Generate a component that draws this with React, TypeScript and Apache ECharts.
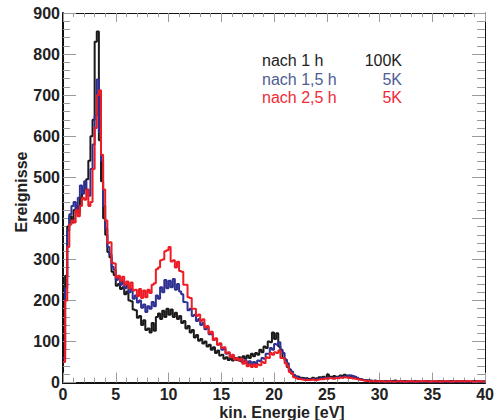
import React, { useEffect, useRef } from "react";
import * as echarts from "echarts";

// Histogram binning (eV)
const BIN_WIDTH = 0.2;
const X_TICKS = [0, 5, 10, 15, 20, 25, 30, 35, 40];

const LEGEND_LABELS = ["nach 1 h", "nach 1,5 h", "nach 2,5 h"];
const LEGEND_COUNTS = ["100K", "5K", "5K"];

// nach 1 h (black)
const BLACK = [
  80, 260, 380, 405, 390, 420, 430, 415, 450, 465,
  470, 495, 540, 600, 640, 830, 855, 590, 490, 400,
  360, 318, 305, 270, 262, 236, 240, 228, 232, 215,
  222, 200, 198, 178, 176, 158, 162, 140, 152, 128,
  132, 122, 145, 126, 160, 168, 155, 175, 160, 180,
  165, 178, 160, 170, 155, 162, 145, 150, 132, 138,
  122, 128, 110, 116, 102, 106, 95, 100, 88, 92,
  80, 86, 72, 78, 66, 68, 58, 62, 55, 60,
  54, 60, 55, 62, 52, 64, 58, 66, 60, 70,
  64, 72, 68, 80, 74, 88, 84, 100, 98, 122,
  106, 120, 88, 80, 60, 56, 38, 32, 22, 18,
  15, 14, 12, 11, 10, 11, 9, 10, 12, 10,
  11, 13, 12, 14, 12, 20, 14, 13, 16, 14,
  15, 17, 16, 19, 17, 18, 16, 14, 12, 10,
  8, 7, 6, 6, 5, 5, 4, 5, 4, 4,
  4, 3, 4, 3, 3, 4, 3, 5, 3, 3,
  3, 4, 3, 3, 2, 3, 4, 3, 3, 2,
  3, 3, 4, 3, 2, 3, 3, 4, 3, 3,
  2, 3, 3, 4, 3, 2, 3, 3, 3, 4,
  3, 3, 2, 3, 4, 3, 3, 2, 3, 3,
];

// nach 1,5 h (blue)
const BLUE = [
  60, 230, 370, 410, 430, 440, 415, 450, 480, 460,
  490, 470, 455, 520, 580, 650, 738, 610, 540, 430,
  375, 330, 312, 282, 275, 250, 256, 238, 246, 230,
  238, 220, 228, 204, 212, 195, 200, 182, 190, 172,
  186, 180, 196, 186, 212, 204, 232, 220, 250, 230,
  248, 232, 252, 226, 240, 222, 215, 196, 195, 176,
  180, 162, 165, 150, 155, 140, 145, 130, 134, 118,
  118, 104, 106, 92, 94, 80, 82, 70, 72, 62,
  64, 56, 60, 54, 58, 48, 54, 46, 52, 44,
  50, 46, 54, 52, 60, 58, 70, 70, 84, 80,
  94, 92, 98, 78, 72, 55, 47, 32, 27, 19,
  15, 12, 10, 9, 8, 9, 7, 8, 9, 8,
  9, 10, 9, 11, 10, 12, 11, 10, 12, 13,
  12, 14, 13, 15, 16, 17, 18, 16, 14, 12,
  9, 8, 6, 5, 5, 4, 4, 3, 4, 3,
  3, 2, 3, 3, 2, 3, 2, 3, 3, 2,
  3, 2, 2, 3, 2, 3, 2, 2, 3, 2,
  2, 3, 2, 3, 2, 2, 3, 2, 3, 2,
  3, 2, 2, 3, 2, 3, 3, 2, 2, 3,
  2, 3, 2, 3, 4, 3, 2, 3, 2, 3,
];

// nach 2,5 h (red)
const RED = [
  50, 200, 330, 385, 395, 390, 420, 405, 430, 450,
  445, 470, 430, 440, 520, 620, 700, 712, 555, 470,
  395, 340, 342, 292, 290, 256, 260, 248, 258, 238,
  246, 230, 244, 224, 226, 210, 228, 206, 224, 208,
  226, 218, 238, 242, 276, 280, 298, 300, 320, 322,
  330, 295, 298, 280, 294, 272, 270, 238, 238, 208,
  206, 180, 180, 162, 166, 150, 154, 134, 138, 120,
  124, 104, 108, 92, 96, 84, 86, 72, 74, 62,
  68, 56, 60, 54, 58, 46, 52, 40, 44, 38,
  44, 38, 44, 42, 50, 48, 62, 60, 72, 68,
  74, 72, 78, 60, 60, 47, 40, 26, 22, 13,
  11, 9, 8, 7, 6, 7, 6, 7, 8, 6,
  7, 8, 9, 8, 10, 9, 11, 10, 9, 11,
  10, 12, 11, 13, 12, 11, 12, 10, 9, 8,
  7, 6, 5, 4, 4, 3, 4, 3, 3, 4,
  3, 3, 2, 3, 4, 3, 2, 3, 3, 4,
  3, 2, 3, 4, 3, 3, 2, 3, 4, 3,
  3, 4, 3, 2, 3, 4, 3, 3, 2, 3,
  4, 3, 3, 2, 3, 4, 3, 3, 4, 3,
  3, 4, 3, 3, 2, 3, 4, 3, 3, 2,
];

const LINE_COLORS = ["#1a1a1a", "#2e3192", "#ed1c24"];
const LEGEND_COLORS = ["#222222", "#4f5d92", "#ee2b35"];

function toSteps(vals: number[]): number[][] {
  const pts = vals.map((v, i) => [i * BIN_WIDTH, v]);
  pts.push([vals.length * BIN_WIDTH, vals[vals.length - 1]]);
  return pts;
}

const FONT = '"Liberation Sans", Arial, sans-serif';

export default function App() {
  const ref = useRef<HTMLDivElement>(null);
  useEffect(() => {
    if (!ref.current) return;
    const chart = echarts.init(ref.current, undefined, { renderer: "svg" });
    const tickGray = "#9a9a9a";
    const xMin = X_TICKS[0];
    const xMax = X_TICKS[X_TICKS.length - 1];
    const xInt = X_TICKS[1] - X_TICKS[0];
    const baseX = (pos: "bottom" | "top", main: boolean) => ({
      type: "value" as const,
      position: pos,
      min: xMin,
      max: xMax,
      interval: xInt,
      axisLine: { show: true, onZero: false, lineStyle: { color: "#111", width: main ? 2 : 1 } },
      axisTick: { show: true, inside: true, length: main ? 10 : 9, lineStyle: { color: tickGray, width: 1 } },
      minorTick: { show: true, splitNumber: 5, length: main ? 5 : 4, lineStyle: { color: tickGray, width: 1 } },
      splitLine: { show: false },
      minorSplitLine: { show: false },
      axisLabel: main
        ? { show: true, fontFamily: FONT, fontWeight: "bold", fontSize: 16, color: "#222", margin: 4, lineHeight: 16 }
        : { show: false },
    });
    const baseY = (pos: "left" | "right", main: boolean) => ({
      type: "value" as const,
      position: pos,
      min: 0,
      max: 900,
      interval: 100,
      axisLine: { show: true, onZero: false, lineStyle: { color: "#111", width: main ? 2 : 1 } },
      axisTick: { show: true, inside: true, length: 13, lineStyle: { color: tickGray, width: 1 } },
      minorTick: { show: true, splitNumber: 5, length: main ? 7 : 8, lineStyle: { color: tickGray, width: 1 } },
      splitLine: { show: false },
      minorSplitLine: { show: false },
      axisLabel: main
        ? { show: true, fontFamily: FONT, fontWeight: "bold", fontSize: 16, color: "#222", margin: 3 }
        : { show: false },
    });

    const seriesData = [BLACK, BLUE, RED];
    const legendRows = [60, 79, 97];

    chart.setOption({
      animation: false,
      backgroundColor: "#ffffff",
      grid: { left: 63, top: 13, width: 424, height: 369.6, containLabel: false },
      xAxis: [baseX("bottom", true), baseX("top", false)],
      yAxis: [baseY("left", true), baseY("right", false)],
      series: seriesData.map((vals, k) => ({
        type: "line",
        name: LEGEND_LABELS[k],
        xAxisIndex: 0,
        yAxisIndex: 0,
        step: "end",
        showSymbol: false,
        symbol: "none",
        clip: true,
        z: 2 + k,
        lineStyle: { color: LINE_COLORS[k], width: 2 },
        data: toSteps(vals),
      })),
      graphic: [
        {
          type: "text",
          x: 21,
          y: 192,
          rotation: Math.PI / 2,
          style: {
            text: "Ereignisse",
            textAlign: "center",
            textVerticalAlign: "middle",
            font: `bold 16px ${FONT}`,
            fill: "#222",
          },
        },
        {
          type: "text",
          x: 282,
          y: 412,
          style: {
            text: "kin. Energie [eV]",
            textAlign: "center",
            textVerticalAlign: "middle",
            font: `bold 16px ${FONT}`,
            fill: "#222",
          },
        },
        ...LEGEND_LABELS.map((lab, k) => ({
          type: "text",
          x: 262,
          y: legendRows[k],
          style: {
            text: lab,
            textAlign: "left",
            textVerticalAlign: "middle",
            font: `16px ${FONT}`,
            fill: LEGEND_COLORS[k],
          },
        })),
        ...LEGEND_COUNTS.map((c, k) => ({
          type: "text",
          x: 402,
          y: legendRows[k],
          style: {
            text: c,
            textAlign: "right",
            textVerticalAlign: "middle",
            font: `16px ${FONT}`,
            fill: LEGEND_COLORS[k],
          },
        })),
      ],
    });
    return () => chart.dispose();
  }, []);
  return (
    <div
      ref={ref}
      style={{ position: "fixed", left: 0, top: 0, width: 497, height: 420, background: "#fff" }}
    />
  );
}
